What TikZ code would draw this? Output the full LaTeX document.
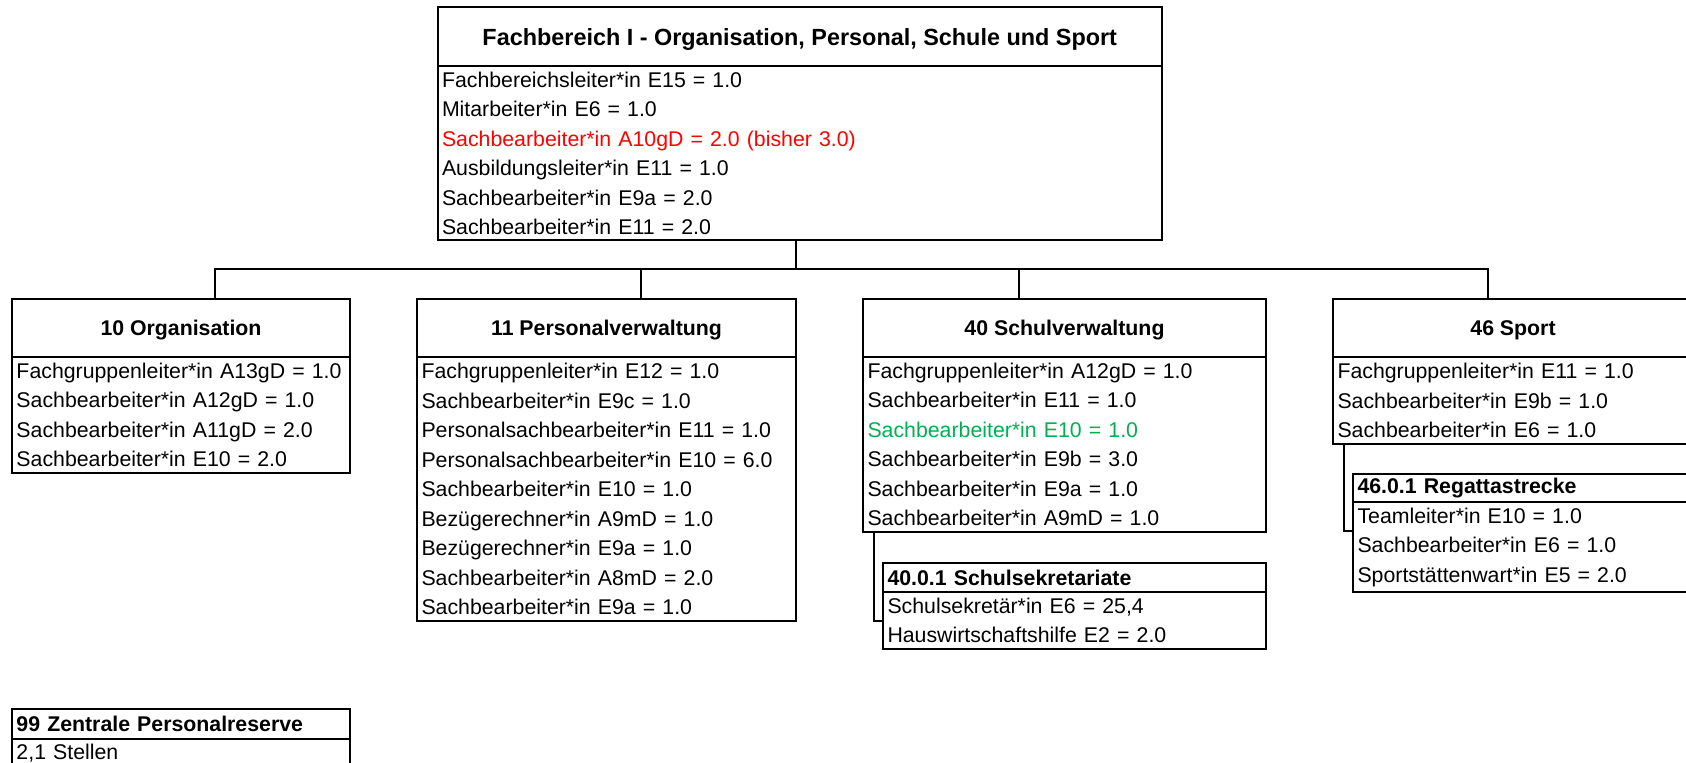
\documentclass[tikz,border=0pt]{standalone}
\usepackage{fontspec}
\setmainfont{Liberation Sans}
\usetikzlibrary{positioning}
\definecolor{xlred}{RGB}{255,0,0}
\definecolor{xlgreen}{RGB}{0,176,80}

\begin{document}
\begin{tikzpicture}[x=0.5pt,y=-0.5pt,line cap=rect,line join=miter,
  box/.style={draw,line width=1pt,outer sep=0pt,inner sep=0pt,anchor=north west},
  head/.style={box,text depth=0pt,font=\fontsize{10.65pt}{12pt}\selectfont\bfseries},
  body/.style={box,align=left,inner xsep=2.25pt,font=\fontsize{10.65pt}{14.75pt}\selectfont},
  subhead/.style={body,font=\fontsize{10.65pt}{14.75pt}\selectfont\bfseries},
  conn/.style={line width=1pt}]
\useasboundingbox (0,0) rectangle (1686,763);
\clip (0,0) rectangle (1686,763);
\node[head,minimum width=362.25pt,minimum height=29.25pt,font=\fontsize{11.7pt}{13pt}\selectfont\bfseries] (hfb) at (437.5,7.5) {Fachbereich I - Organisation, Personal, Schule und Sport};
\node[body,text width=357.75pt,minimum height=87.25pt] (bfb) at (hfb.south west) {Fachbereichsleiter*in E15 = 1.0\\ Mitarbeiter*in E6 = 1.0\\ \textcolor{xlred}{Sachbearbeiter*in A10gD = 2.0 (bisher 3.0)}\\ Ausbildungsleiter*in E11 = 1.0\\ Sachbearbeiter*in E9a = 2.0\\ Sachbearbeiter*in E11 = 2.0};
\node[head,minimum width=169pt,minimum height=29pt] (h10) at (12,299) {10 Organisation};
\node[body,text width=164.5pt,minimum height=58pt] (b10) at (h10.south west) {Fachgruppenleiter*in A13gD = 1.0\\ Sachbearbeiter*in A12gD = 1.0\\ Sachbearbeiter*in A11gD = 2.0\\ Sachbearbeiter*in E10 = 2.0};
\node[head,minimum width=189.5pt,minimum height=29pt] (h11) at (417,299) {11 Personalverwaltung};
\node[body,text width=185pt,minimum height=132pt] (b11) at (h11.south west) {Fachgruppenleiter*in E12 = 1.0\\ Sachbearbeiter*in E9c = 1.0\\ Personalsachbearbeiter*in E11 = 1.0\\ Personalsachbearbeiter*in E10 = 6.0\\ Sachbearbeiter*in E10 = 1.0\\ Bezügerechner*in A9mD = 1.0\\ Bezügerechner*in E9a = 1.0\\ Sachbearbeiter*in A8mD = 2.0\\ Sachbearbeiter*in E9a = 1.0};
\node[head,minimum width=201.5pt,minimum height=29pt] (h40) at (863,299) {40 Schulverwaltung};
\node[body,text width=197pt,minimum height=87.5pt] (b40) at (h40.south west) {Fachgruppenleiter*in A12gD = 1.0\\ Sachbearbeiter*in E11 = 1.0\\ \textcolor{xlgreen}{Sachbearbeiter*in E10 = 1.0}\\ Sachbearbeiter*in E9b = 3.0\\ Sachbearbeiter*in E9a = 1.0\\ Sachbearbeiter*in A9mD = 1.0};
\node[head,minimum width=180pt,minimum height=29pt] (h46) at (1333,299) {46 Sport};
\node[body,text width=175.5pt,minimum height=43.5pt] (b46) at (h46.south west) {Fachgruppenleiter*in E11 = 1.0\\ Sachbearbeiter*in E9b = 1.0\\ Sachbearbeiter*in E6 = 1.0};
\node[subhead,text width=187pt,minimum height=14.5pt] (h401) at (883,563) {40.0.1 Schulsekretariate};
\node[body,text width=187pt,minimum height=28.5pt] (b401) at (h401.south west) {Schulsekretär*in E6 = 25,4\\ Hauswirtschaftshilfe E2 = 2.0};
\node[subhead,text width=165.5pt,minimum height=14pt] (h461) at (1353,474) {46.0.1 Regattastrecke};
\node[body,text width=165.5pt,minimum height=45.25pt] (b461) at (h461.south west) {Teamleiter*in E10 = 1.0\\ Sachbearbeiter*in E6 = 1.0\\ Sportstättenwart*in E5 = 2.0};
\node[subhead,text width=164.5pt,minimum height=15pt] (h99) at (12,708.6) {99 Zentrale Personalreserve};
\node[body,text width=164.5pt,minimum height=15pt] (b99) at (h99.south west) {2,1 Stellen};
\coordinate (bus) at (796,269.5);
\foreach \n/\x in {10/215,11/641,40/1019,46/1488}
\coordinate (k\n) at (\x,269.5);
\draw[conn] (bfb.south -| bus) -- (bus);
\draw[conn] (k10) -- (k46);
\foreach \n in {10,11,40,46}
\draw[conn] (k\n) -- (h\n.north -| k\n);
\coordinate (c40) at (874,621.5);
\coordinate (c46) at (1344,531);
\draw[conn] (b40.south -| c40) |- (b401.west |- c40);
\draw[conn] (b46.south -| c46) |- (b461.west |- c46);
\end{tikzpicture}
\end{document}
